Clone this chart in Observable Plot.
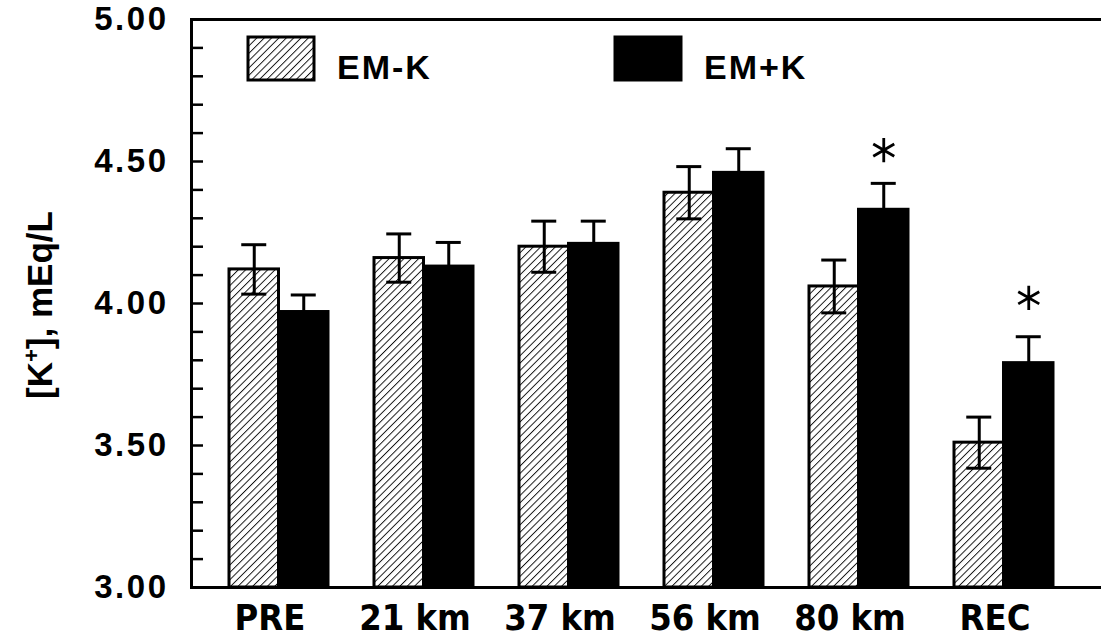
<!DOCTYPE html>
<html><head><meta charset="utf-8">
<script src="https://cdn.jsdelivr.net/npm/d3@7"></script>
<script src="https://cdn.jsdelivr.net/npm/@observablehq/plot@0.6"></script>
<style>
html,body{margin:0;padding:0;background:#fff;overflow:hidden;}
#chart{position:relative;width:1101px;height:643px;}
</style></head><body><div id="chart"></div>
<script>
// ---- data ----
const categories = ["PRE", "21 km", "37 km", "56 km", "80 km", "REC"];
const seriesNames = ["EM-K", "EM+K"];
const emMinusK = [4.12, 4.16, 4.20, 4.39, 4.06, 3.51];
const emMinusKErr = [0.087, 0.085, 0.09, 0.092, 0.093, 0.09];
const emPlusK = [3.97, 4.13, 4.21, 4.46, 4.33, 3.79];
const emPlusKErr = [0.06, 0.085, 0.08, 0.085, 0.093, 0.093];
const starPositions = [null, null, null, null, 4.54, 4.02];
const yMajorTicks = [3.0, 3.5, 4.0, 4.5, 5.0];
const yMinorTicks = [3.0, 3.1, 3.2, 3.3, 3.4, 3.5, 3.6, 3.7, 3.8, 3.9, 4.0, 4.1, 4.2, 4.3, 4.4, 4.5, 4.6, 4.7, 4.8, 4.9, 5.0];
const yLabel = ["[K", "+", "], mEq/L"];

// ---- tables built from the arrays ----
const rowsK = categories.map((c, i) => ({cat: c, v: emMinusK[i], e: emMinusKErr[i]}));
const rowsP = categories.map((c, i) => ({cat: c, v: emPlusK[i], e: emPlusKErr[i]}));
const capsK = rowsK.flatMap(d => [{cat: d.cat, y: d.v + d.e}, {cat: d.cat, y: d.v - d.e}]);
const capsP = rowsP.map(d => ({cat: d.cat, y: d.v + d.e}));
const stars = categories.map((c, i) => ({cat: c, y: starPositions[i]})).filter(d => d.y != null);

const W = 1101, H = 643;
const left = 191, rightEnd = 1092;
const bw = 99, half = bw / 2, capW = 25;
const capIn = half / 2 - capW / 2;
const FONT = "'Liberation Sans', Arial, sans-serif";

const plot = Plot.plot({
  width: W, height: H,
  marginLeft: left, marginRight: 0, marginTop: 19, marginBottom: 56,
  style: {background: "transparent", fontFamily: FONT, color: "black"},
  x: {domain: categories, range: [left, rightEnd], paddingInner: 0.317, paddingOuter: 0.262},
  y: {domain: [3, 5]},
  marks: [
    Plot.barY(rowsK, {x: "cat", y1: 3, y2: "v", fill: "url(#hatchEM)", stroke: "black", strokeWidth: 3, insetRight: half}),
    Plot.barY(rowsP, {x: "cat", y1: 3, y2: "v", fill: "black", stroke: "black", strokeWidth: 3, insetLeft: half}),
    Plot.ruleX(rowsK, {x: "cat", y1: d => d.v - d.e, y2: d => d.v + d.e, dx: -half / 2, strokeWidth: 3}),
    Plot.ruleX(rowsP, {x: "cat", y1: d => d.v, y2: d => d.v + d.e, dx: half / 2, strokeWidth: 3}),
    Plot.tickY(capsK, {x: "cat", y: "y", insetLeft: capIn, insetRight: bw - capIn - capW, strokeWidth: 3}),
    Plot.tickY(capsP, {x: "cat", y: "y", insetLeft: half + capIn, insetRight: capIn, strokeWidth: 3}),
    Plot.dot(stars, {x: "cat", y: "y", dx: half / 2, symbol: "asterisk", r: 11.5, stroke: "black", strokeWidth: 2.8}),
    Plot.axisY({ticks: yMinorTicks, tickSize: -12, tickFormat: () => "", strokeWidth: 2.5, label: null}),
    Plot.axisY({ticks: yMajorTicks, tickSize: 0, tickPadding: 23, tickFormat: d => d.toFixed(2), fontSize: 33, fontWeight: "bold", label: null}),
    Plot.axisX({tickSize: 0, tickPadding: 17, dx: -9, fontSize: 36, fontWeight: "bold", fontFamily: "'Liberation Sans Narrow', 'DejaVu Sans Condensed', sans-serif", label: null}),
    Plot.frame({stroke: "black", strokeWidth: 3, insetRight: -20})
  ]
});

const svg = d3.select(plot);
svg.selectAll("g[aria-label='y-axis tick label']").attr("letter-spacing", 2.5);
const defs = svg.insert("defs", ":first-child");
const pat = defs.append("pattern").attr("id", "hatchEM").attr("patternUnits", "userSpaceOnUse")
  .attr("width", 5.2).attr("height", 5.2).attr("patternTransform", "rotate(45)");
pat.append("rect").attr("width", 5.2).attr("height", 5.2).attr("fill", "white");
pat.append("line").attr("x1", 0).attr("y1", 0).attr("x2", 0).attr("y2", 5.2).attr("stroke", "#111").attr("stroke-width", 1.9);

// y-axis title
const yt = svg.append("text").attr("transform", "translate(52,305) rotate(-90)")
  .attr("text-anchor", "middle").attr("font-size", 35).attr("font-weight", "bold")
  .attr("font-family", FONT);
yt.append("tspan").text(yLabel[0]);
yt.append("tspan").attr("dy", -13).attr("font-size", 22).text(yLabel[1]);
yt.append("tspan").attr("dy", 13).text(yLabel[2]);

// legend
const legendItems = [
  {name: seriesNames[0], fill: "url(#hatchEM)", x: 248},
  {name: seriesNames[1], fill: "black", x: 615}
];
const lg = svg.append("g").attr("font-family", FONT).attr("text-anchor", "start");
for (const it of legendItems) {
  lg.append("rect").attr("x", it.x).attr("y", 37).attr("width", 66).attr("height", 43)
    .attr("fill", it.fill).attr("stroke", "black").attr("stroke-width", 3);
  lg.append("text").attr("x", it.x + 89).attr("y", 79).attr("font-size", 34).attr("font-weight", "bold")
    .attr("letter-spacing", 2).text(it.name);
}

document.getElementById("chart").appendChild(plot);
</script></body></html>
